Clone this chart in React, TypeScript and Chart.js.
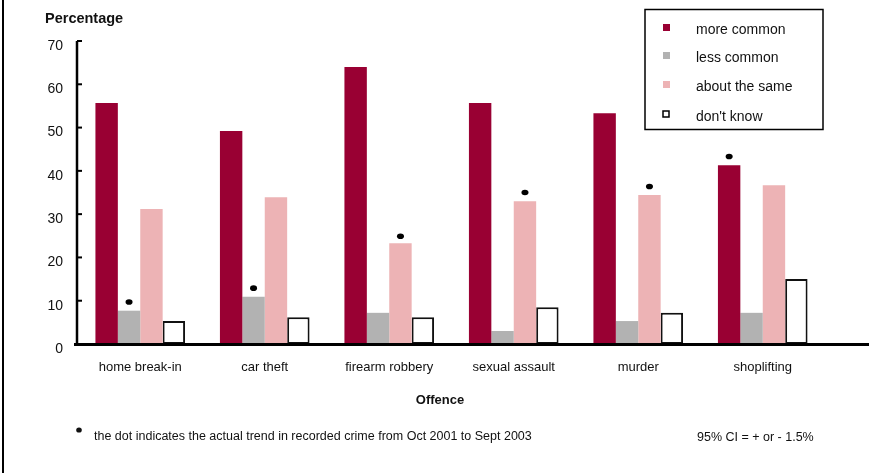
import { useEffect, useRef } from 'react';
import { Chart, registerables } from 'chart.js';

Chart.register(...registerables);

const categories = ['home break-in', 'car theft', 'firearm robbery', 'sexual assault', 'murder', 'shoplifting'];
const seriesLabels = ['more common', 'less common', 'about the same', "don't know"];
const moreCommon = [55.7, 49.2, 64.0, 55.7, 53.3, 41.3];
const lessCommon = [7.7, 10.9, 7.2, 3.0, 5.3, 7.2];
const aboutSame = [31.2, 33.9, 23.3, 33.0, 34.4, 36.7];
const dontKnow = [5.3, 6.2, 6.2, 8.5, 7.2, 15.0];
// recorded-crime trend dots: value and which series (0 more, 1 less, 2 same) they sit over
const dotValues = [9.7, 12.9, 24.9, 35.0, 36.4, 43.3];
const dotSeries = [1, 1, 2, 2, 2, 0];
const yTicks = [0, 10, 20, 30, 40, 50, 60, 70];

const yTitle = 'Percentage';
const xTitle = 'Offence';
const footnote = 'the dot indicates the actual trend in recorded crime from Oct 2001 to Sept 2003';
const ciNote = '95% CI = + or - 1.5%';

const FONT = '"Liberation Sans", Arial, sans-serif';
const colors = ['#990033', '#B2B2B2', '#EDB3B5', '#FFFFFF'];

const decorPlugin = {
  id: 'decor',
  beforeDatasetsDraw(chart: any) {
    const { ctx, chartArea } = chart;
    const y = chart.scales.y;
    ctx.save();
    ctx.strokeStyle = '#000';
    // y axis line
    ctx.lineWidth = 2.5;
    ctx.beginPath();
    ctx.moveTo(chartArea.left - 1, chartArea.top);
    ctx.lineTo(chartArea.left - 1, chartArea.bottom);
    ctx.stroke();
    // inside tick marks
    ctx.lineWidth = 2;
    yTicks.forEach((v) => {
      const py = y.getPixelForValue(v);
      ctx.beginPath();
      ctx.moveTo(chartArea.left - 1, py);
      ctx.lineTo(chartArea.left + 4, py);
      ctx.stroke();
    });
    ctx.restore();
  },
  afterDatasetsDraw(chart: any) {
    const { ctx, chartArea } = chart;
    const y = chart.scales.y;
    ctx.save();
    // x axis line, extended beyond the last category
    ctx.strokeStyle = '#000';
    ctx.lineWidth = 3;
    ctx.beginPath();
    ctx.moveTo(chartArea.left - 4, chartArea.bottom + 0.5);
    ctx.lineTo(chartArea.right + 44, chartArea.bottom + 0.5);
    ctx.stroke();
    // dots
    ctx.fillStyle = '#000';
    dotValues.forEach((v, i) => {
      const bar = chart.getDatasetMeta(dotSeries[i]).data[i];
      const py = y.getPixelForValue(v);
      ctx.beginPath();
      ctx.ellipse(bar.x, py, 3.5, 2.8, 0, 0, Math.PI * 2);
      ctx.fill();
    });
    ctx.restore();
  },
  afterDraw(chart: any) {
    const { ctx, height } = chart;
    ctx.save();
    // left border line
    ctx.strokeStyle = '#000';
    ctx.lineWidth = 2;
    ctx.beginPath();
    ctx.moveTo(3, 0);
    ctx.lineTo(3, height);
    ctx.stroke();

    ctx.fillStyle = '#111';
    ctx.textBaseline = 'middle';
    // y title
    ctx.font = `bold 14.5px ${FONT}`;
    ctx.textAlign = 'left';
    ctx.fillText(yTitle, 45, 19);
    // x title
    ctx.font = `bold 13px ${FONT}`;
    ctx.textAlign = 'center';
    ctx.fillText(xTitle, 440, 400);
    // footnote
    ctx.beginPath();
    ctx.ellipse(79, 430, 2.8, 2.6, 0, 0, Math.PI * 2);
    ctx.fill();
    ctx.font = `12.5px ${FONT}`;
    ctx.textAlign = 'left';
    ctx.fillText(footnote, 94, 437);
    ctx.font = `12.5px ${FONT}`;
    ctx.fillText(ciNote, 697, 438);

    // legend
    const lx = 645, ly = 9.5, lw = 178, lh = 120;
    ctx.fillStyle = '#fff';
    ctx.fillRect(lx, ly, lw, lh);
    ctx.strokeStyle = '#000';
    ctx.lineWidth = 1.5;
    ctx.strokeRect(lx, ly, lw, lh);
    const rows = [27, 55, 84, 114];
    chart.data.datasets.forEach((ds: any, i: number) => {
      const cy = rows[i];
      if (i === 3) {
        ctx.fillStyle = '#fff';
        ctx.fillRect(663, cy - 3, 6, 6);
        ctx.lineWidth = 1.5;
        ctx.strokeStyle = '#000';
        ctx.strokeRect(663, cy - 3, 6, 6);
      } else {
        ctx.fillStyle = ds.backgroundColor;
        ctx.fillRect(663, cy - 3, 7, 7);
      }
      ctx.fillStyle = '#111';
      ctx.font = `14px ${FONT}`;
      ctx.textAlign = 'left';
      ctx.fillText(ds.label, 696, cy + 3);
    });
    ctx.restore();
  },
};

export default function App() {
  const ref = useRef<HTMLCanvasElement>(null);
  useEffect(() => {
    const canvas = ref.current!;
    const chart = new Chart(canvas, {
      type: 'bar',
      data: {
        labels: categories,
        datasets: [
          { label: seriesLabels[0], data: moreCommon, backgroundColor: colors[0], borderWidth: 0 },
          { label: seriesLabels[1], data: lessCommon, backgroundColor: colors[1], borderWidth: 0 },
          { label: seriesLabels[2], data: aboutSame, backgroundColor: colors[2], borderWidth: 0 },
          {
            label: seriesLabels[3],
            data: dontKnow,
            backgroundColor: colors[3],
            borderColor: '#111',
            borderWidth: 2,
            borderSkipped: false,
          },
        ],
      },
      options: {
        responsive: false,
        animation: false,
        events: [],
        layout: { padding: { left: 38, right: 59, top: 41, bottom: 89 } },
        datasets: { bar: { barPercentage: 1, categoryPercentage: 0.72 } },
        plugins: { legend: { display: false }, tooltip: { enabled: false }, title: { display: false } },
        scales: {
          x: {
            grid: { display: false, drawTicks: false },
            border: { display: false },
            ticks: { font: { family: FONT, size: 13 }, color: '#111', padding: 16, maxRotation: 0, autoSkip: false },
            afterFit: (s: any) => { s.height = 40; },
          },
          y: {
            min: 0,
            max: 70,
            grid: { display: false, drawTicks: false },
            border: { display: false },
            ticks: {
              stepSize: 10,
              font: { family: FONT, size: 14 },
              color: '#111',
              padding: 15,
              labelOffset: 5,
            },
            afterFit: (s: any) => { s.width = 40; },
          },
        },
      },
      plugins: [decorPlugin],
    });
    return () => chart.destroy();
  }, []);
  return (
    <div style={{ position: 'fixed', left: 0, top: 0, width: 884, height: 473, background: '#fff' }}>
      <canvas ref={ref} width={884} height={473} style={{ width: 884, height: 473 }} />
    </div>
  );
}
